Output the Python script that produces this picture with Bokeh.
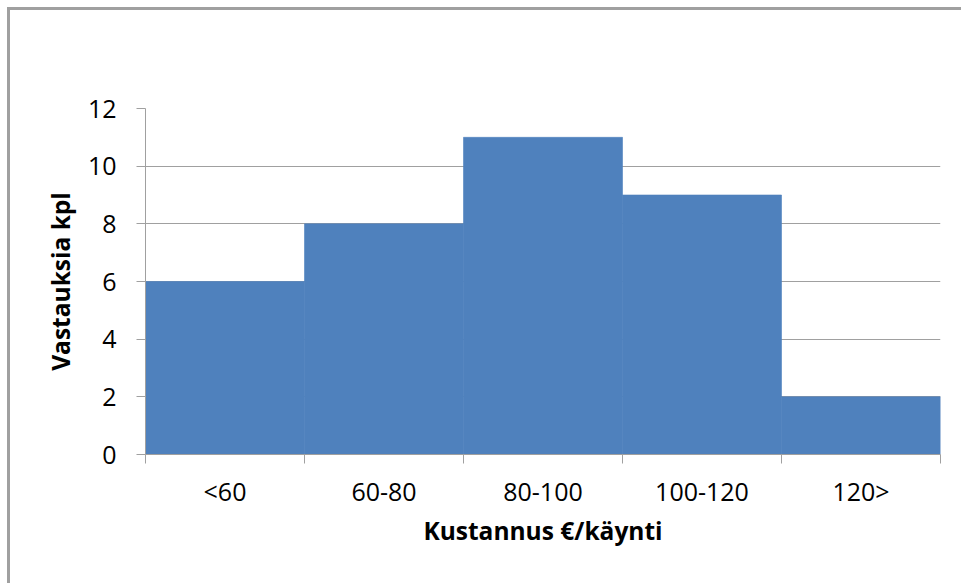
from bokeh.plotting import figure
from bokeh.models import FixedTicker, Range1d, ColumnDataSource
from bokeh.embed import file_html
from bokeh.resources import INLINE

categories = ["<60", "60-80", "80-100", "100-120", "120>"]
counts = [6, 8, 11, 9, 2]
y_ticks = [0, 2, 4, 6, 8, 10, 12]
x_title = "Kustannus €/käynti"
y_title = "Vastauksia kpl"

centers = [i + 0.5 for i in range(len(categories))]
edges = list(range(len(categories) + 1))
src = ColumnDataSource(dict(x=centers, top=counts))

GRAY = "#a0a0a0"
FONT = "Open Sans"

p = figure(width=961, height=583, output_backend="svg", toolbar_location=None,
           x_range=Range1d(0, len(categories)), y_range=Range1d(0, 12),
           min_border_left=145, min_border_top=108, min_border_right=21, min_border_bottom=129)
p.styles = {"background-color": "white",
            "box-shadow": "inset 7px 7px 0 0 white, inset 10px 10px 0 0 #a0a0a0"}
p.outline_line_color = None
p.background_fill_color = "white"
p.border_fill_color = None

p.vbar(x="x", top="top", width=1.0, bottom=0, source=src,
       fill_color="#4F81BD", line_color="#4F81BD", line_width=0.6)

p.xgrid.visible = False
p.ygrid.ticker = FixedTicker(ticks=y_ticks)
p.ygrid.grid_line_color = GRAY
p.ygrid.grid_line_width = 1

p.yaxis.ticker = FixedTicker(ticks=y_ticks)
p.yaxis.axis_line_color = GRAY
p.yaxis.major_tick_line_color = GRAY
p.yaxis.major_tick_out = 9
p.yaxis.major_tick_in = 0
p.yaxis.minor_tick_line_color = None
p.yaxis.major_label_standoff = 20
p.yaxis.major_label_text_font = FONT
p.yaxis.major_label_text_font_size = "25px"
p.yaxis.major_label_text_color = "black"
p.yaxis.axis_label = y_title
p.yaxis.axis_label_text_font = FONT
p.yaxis.axis_label_text_font_size = "24.5px"
p.yaxis.axis_label_text_font_style = "bold"
p.yaxis.axis_label_text_color = "black"
p.yaxis.axis_label_standoff = 8

p.xaxis.ticker = FixedTicker(ticks=centers, minor_ticks=edges)
p.xaxis.major_label_overrides = {c: lab for c, lab in zip(centers, categories)}
p.xaxis.axis_line_color = GRAY
p.xaxis.major_tick_line_color = None
p.xaxis.major_tick_out = 9
p.xaxis.major_tick_in = 0
p.xaxis.minor_tick_line_color = GRAY
p.xaxis.minor_tick_out = 9
p.xaxis.minor_tick_in = 0
p.xaxis.major_label_standoff = 10
p.xaxis.major_label_text_font = FONT
p.xaxis.major_label_text_font_size = "25px"
p.xaxis.major_label_text_color = "black"
p.xaxis.axis_label = x_title
p.xaxis.axis_label_text_font = FONT
p.xaxis.axis_label_text_font_size = "24.5px"
p.xaxis.axis_label_text_font_style = "bold"
p.xaxis.axis_label_text_color = "black"
p.xaxis.axis_label_standoff = 3

open("out.html", "w").write(file_html(p, INLINE))
